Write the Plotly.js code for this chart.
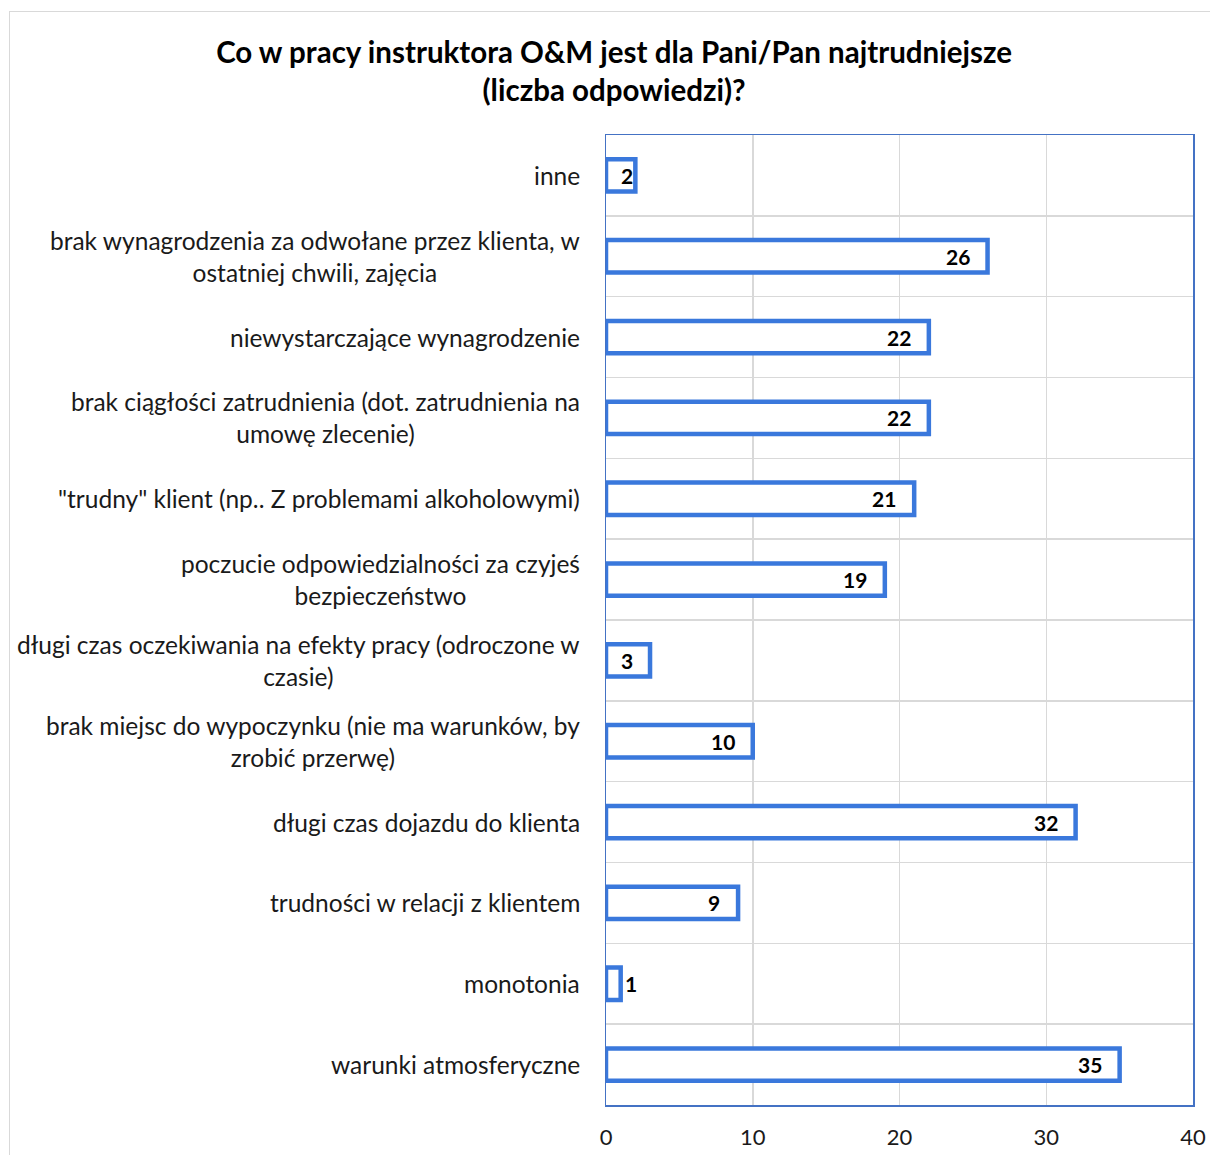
<!DOCTYPE html>
<html>
<head>
<meta charset="utf-8">
<script src="https://cdn.plot.ly/plotly-3.0.1.min.js"></script>
<style>
  html, body { margin: 0; padding: 0; background: #fff; }
  #frame { position: absolute; left: 9px; top: 11px; width: 1300px; height: 1300px;
           border-left: 1.5px solid #D9D9D9; border-top: 1.5px solid #D9D9D9; pointer-events: none; }
  #chart { position: absolute; left: 0; top: 0; width: 1210px; height: 1155px; }
</style>
</head>
<body>
<div id="chart"></div>
<div id="frame"></div>
<script>
// Data (bottom to top, as drawn)
const categories = [
  "warunki atmosferyczne",
  "monotonia",
  "trudności w relacji z klientem",
  "długi czas dojazdu do klienta",
  "brak miejsc do wypoczynku (nie ma warunków, by<br>zrobić przerwę)",
  "długi czas oczekiwania na efekty pracy (odroczone w<br>czasie)",
  "poczucie odpowiedzialności za czyjeś<br>bezpieczeństwo",
  "\"trudny\" klient (np.. Z problemami alkoholowymi)",
  "brak ciągłości zatrudnienia (dot. zatrudnienia na<br>umowę zlecenie)",
  "niewystarczające wynagrodzenie",
  "brak wynagrodzenia za odwołane przez klienta, w<br>ostatniej chwili, zajęcia",
  "inne"
];
const values = [35, 1, 9, 32, 10, 3, 19, 21, 22, 22, 26, 2];
const xTicks = [0, 10, 20, 30, 40];
const titleText = "Co w pracy instruktora O&M jest dla Pani/Pan najtrudniejsze<br>(liczba odpowiedzi)?";

const FONT = "Lato, 'Open Sans', sans-serif";
const plotW = 1210 - 606 - 17;
const pxPerUnit = plotW / 40;

const catAnnotations = categories.map(c => ({
  x: 0, xref: 'paper', y: c, yref: 'y',
  text: c, showarrow: false, xanchor: 'right', yanchor: 'middle',
  align: 'center', xshift: -24,
  font: { family: FONT, size: 24.5, color: '#1a1a1a' }
}));

const valAnnotations = values.map((v, i) => {
  const barPx = v * pxPerUnit;
  const inside = barPx > 20;
  return {
    x: v, xref: 'x', y: categories[i], yref: 'y',
    text: String(v), showarrow: false,
    xanchor: inside ? 'right' : 'left', yanchor: 'middle',
    xshift: inside ? -Math.max(0, Math.min(16, barPx - 29)) : 2,
    font: { family: FONT, size: 21, color: '#000', weight: 'bold' }
  };
});

const trace = {
  type: 'bar', orientation: 'h',
  x: values, y: categories,
  marker: { color: '#ffffff', line: { color: '#3A78DC', width: 4.5 } },
  hoverinfo: 'none'
};

const layout = {
  width: 1210, height: 1155,
  margin: { l: 606, r: 17, t: 135, b: 50, pad: 0 },
  paper_bgcolor: '#ffffff', plot_bgcolor: '#ffffff',
  showlegend: false,
  bargap: 0.6,
  title: {
    text: titleText, x: 0.5075, xanchor: 'center', y: 0.9455, yanchor: 'middle',
    font: { family: FONT, size: 29.5, color: '#000', weight: 'bold' }
  },
  xaxis: {
    range: [0, 40], tickvals: xTicks, ticktext: xTicks.map(String),
    showgrid: true, gridcolor: '#D9D9D9', gridwidth: 1.5,
    showline: true, linecolor: '#4472C4', linewidth: 1.5, mirror: true,
    zeroline: false, ticks: '', ticklabelstandoff: 12,
    tickfont: { family: FONT, size: 22, color: '#1a1a1a' }
  },
  yaxis: {
    type: 'category', categoryorder: 'array', categoryarray: categories,
    tickson: 'boundaries', showgrid: true, gridcolor: '#D9D9D9', gridwidth: 1.5,
    showline: true, linecolor: '#4472C4', linewidth: 1.5, mirror: true,
    showticklabels: false, ticks: '', zeroline: false
  },
  annotations: catAnnotations.concat(valAnnotations)
};

Plotly.newPlot('chart', [trace], layout, { staticPlot: true, displayModeBar: false });
</script>
</body>
</html>
